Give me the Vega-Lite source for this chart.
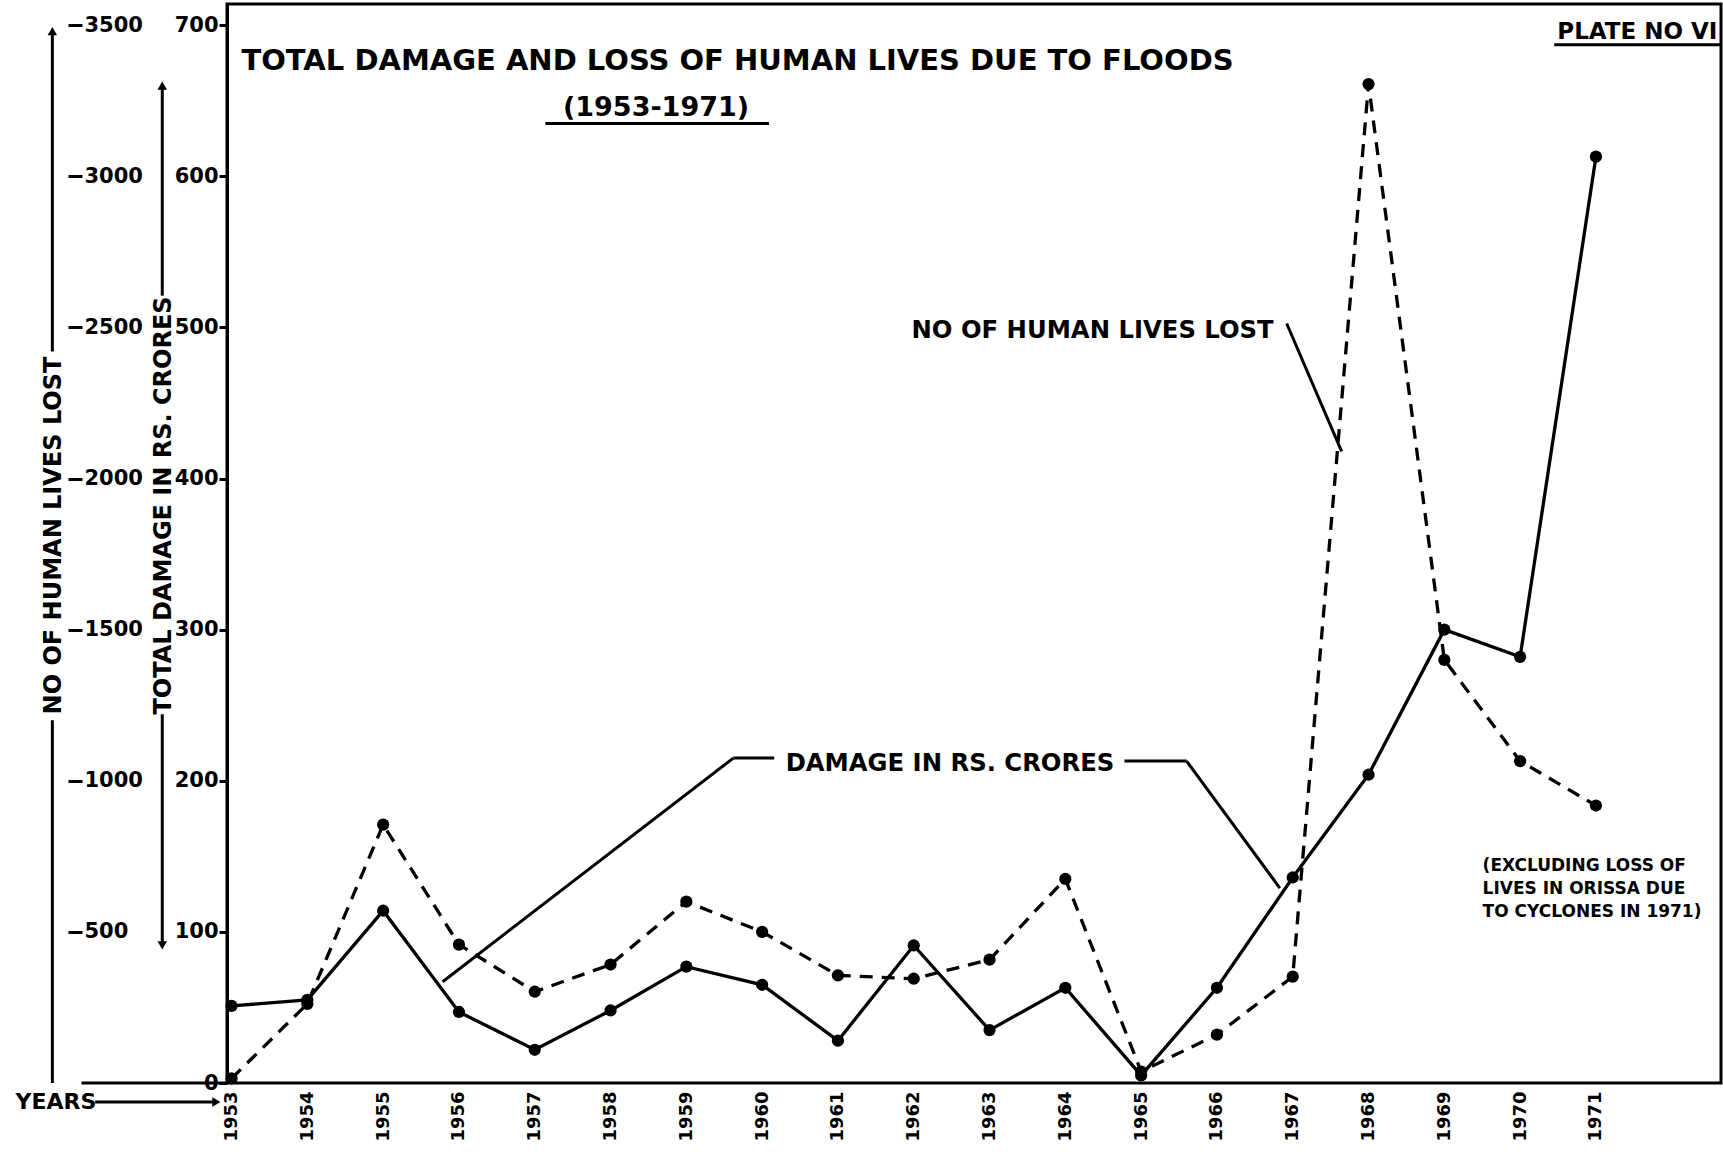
{
  "$schema": "https://vega.github.io/schema/vega-lite/v6.json",
  "width": 1494,
  "height": 1079,
  "autosize": "none",
  "padding": {"left": 227, "top": 4, "right": 2, "bottom": 69},
  "background": "white",
  "config": {
    "font": "DejaVu Sans",
    "view": {"stroke": "black", "strokeWidth": 3},
    "axis": {"grid": false, "labelColor": "black", "titleColor": "black", "tickColor": "black", "domainColor": "black"}
  },
  "datasets": {
    "floods": [
      {"year": 1953, "damage": 51, "lives": 15},
      {"year": 1954, "damage": 55, "lives": 262},
      {"year": 1955, "damage": 114, "lives": 855},
      {"year": 1956, "damage": 47, "lives": 458},
      {"year": 1957, "damage": 22, "lives": 302},
      {"year": 1958, "damage": 48, "lives": 392},
      {"year": 1959, "damage": 77, "lives": 600},
      {"year": 1960, "damage": 65, "lives": 500},
      {"year": 1961, "damage": 28, "lives": 356},
      {"year": 1962, "damage": 91, "lives": 345},
      {"year": 1963, "damage": 35, "lives": 408},
      {"year": 1964, "damage": 63, "lives": 675},
      {"year": 1965, "damage": 5, "lives": 38},
      {"year": 1966, "damage": 63, "lives": 160},
      {"year": 1967, "damage": 136, "lives": 352},
      {"year": 1968, "damage": 204, "lives": 3305},
      {"year": 1969, "damage": 300, "lives": 1400},
      {"year": 1970, "damage": 282, "lives": 1065},
      {"year": 1971, "damage": 613, "lives": 918}
    ],
    "leaders": [
      {"x1": 1966.92, "y1": 502.6, "x2": 1967.645, "y2": 418},
      {"x1": 1960.16, "y1": 215, "x2": 1959.62, "y2": 215},
      {"x1": 1959.62, "y1": 215, "x2": 1955.785, "y2": 67},
      {"x1": 1964.78, "y1": 213, "x2": 1965.6, "y2": 213},
      {"x1": 1965.6, "y1": 213, "x2": 1966.83, "y2": 129},
      {"x1": 1957.14, "y1": 635, "x2": 1960.09, "y2": 635},
      {"x1": 1970.45, "y1": 687, "x2": 1972.65, "y2": 687},
      {"x1": 1950.636, "y1": 484, "x2": 1950.636, "y2": 696},
      {"x1": 1950.636, "y1": 240, "x2": 1950.636, "y2": 0},
      {"x1": 1952.086, "y1": 521, "x2": 1952.086, "y2": 660},
      {"x1": 1952.086, "y1": 244, "x2": 1952.086, "y2": 91},
      {"x1": 1951.02, "y1": 0, "x2": 1952.94, "y2": 0},
      {"x1": 1951.2, "y1": -12.6, "x2": 1952.8, "y2": -12.6}
    ],
    "arrows": [
      {"x": 1950.636, "y": 696, "dir": "up"},
      {"x": 1952.086, "y": 660, "dir": "up"},
      {"x": 1952.086, "y": 91, "dir": "down"},
      {"x": 1952.8, "y": -12.6, "dir": "right"}
    ],
    "titleNotes": [
      {"x": 1953.13, "y": 676.5, "text": "TOTAL DAMAGE AND LOSS OF HUMAN LIVES DUE TO FLOODS"}
    ],
    "subNotes": [
      {"x": 1958.6, "y": 645, "text": "(1953-1971)"}
    ],
    "labelNotes": [
      {"x": 1961.97, "y": 497.4, "text": "NO OF HUMAN LIVES LOST"},
      {"x": 1960.31, "y": 211.3, "text": "DAMAGE IN RS. CRORES"}
    ],
    "plateNotes": [
      {"x": 1970.49, "y": 695.4, "text": "PLATE NO VI"}
    ],
    "yearNotes": [
      {"x": 1950.15, "y": -12.6, "text": "YEARS"}
    ],
    "smallNotes": [
      {"x": 1969.505, "y": 143.7, "text": "(EXCLUDING LOSS OF\nLIVES IN ORISSA DUE\nTO CYCLONES IN 1971)"}
    ]
  },
  "layer": [
    {
      "data": {"name": "floods"},
      "mark": {"type": "line", "color": "black", "strokeWidth": 3.3},
      "encoding": {
        "x": {
          "field": "year", "type": "quantitative",
          "scale": {"domain": [1952.94, 1972.65], "nice": false, "zero": false},
          "axis": {
            "values": [1953,1954,1955,1956,1957,1958,1959,1960,1961,1962,1963,1964,1965,1966,1967,1968,1969,1970,1971],
            "format": "d", "labelAngle": 270, "labelFontSize": 18, "labelFontWeight": "bold",
            "labelPadding": 8, "ticks": false, "domain": false, "title": null
          }
        },
        "y": {
          "field": "damage", "type": "quantitative",
          "scale": {"domain": [0, 714], "nice": false, "zero": false},
          "axis": {
            "values": [0,100,200,300,400,500,600,700],
            "labelFontSize": 21, "labelFontWeight": "bold", "labelPadding": 1,
            "tickSize": 8, "tickWidth": 3, "domainWidth": 3,
            "title": "TOTAL DAMAGE IN RS. CRORES",
            "titleFontSize": 24, "titleFontWeight": "bold",
            "titleAngle": 270, "titleX": -64, "titleY": 501,
            "titleAlign": "center", "titleBaseline": "middle"
          }
        }
      }
    },
    {
      "data": {"name": "floods"},
      "mark": {"type": "line", "color": "black", "strokeWidth": 3.3, "strokeDash": [13, 9]},
      "encoding": {
        "x": {"field": "year", "type": "quantitative"},
        "y": {
          "field": "lives", "type": "quantitative",
          "scale": {"domain": [0, 3570], "nice": false, "zero": false},
          "axis": {
            "orient": "right", "offset": -1653,
            "values": [500,1000,1500,2000,2500,3000,3500],
            "format": "d",
            "domain": false, "tickSize": 14, "tickWidth": 3, "labelPadding": 2,
            "labelFontSize": 21, "labelFontWeight": "bold",
            "title": "NO OF HUMAN LIVES LOST",
            "titleFontSize": 24, "titleFontWeight": "bold",
            "titleAngle": 270, "titleX": -15, "titleY": 531,
            "titleAlign": "center", "titleBaseline": "middle"
          }
        }
      }
    },
    {
      "data": {"name": "floods"},
      "mark": {"type": "point", "filled": true, "color": "black", "size": 150, "opacity": 1},
      "encoding": {
        "x": {"field": "year", "type": "quantitative"},
        "y": {"field": "damage", "type": "quantitative", "scale": {"domain": [0, 714], "nice": false, "zero": false}, "axis": null}
      }
    },
    {
      "data": {"name": "floods"},
      "mark": {"type": "point", "filled": true, "color": "black", "size": 150, "opacity": 1},
      "encoding": {
        "x": {"field": "year", "type": "quantitative"},
        "y": {"field": "lives", "type": "quantitative", "scale": {"domain": [0, 3570], "nice": false, "zero": false}, "axis": null}
      }
    },
    {
      "data": {"name": "leaders"},
      "mark": {"type": "rule", "color": "black", "strokeWidth": 3},
      "encoding": {
        "x": {"field": "x1", "type": "quantitative"},
        "y": {"field": "y1", "type": "quantitative", "scale": {"domain": [0, 714], "nice": false, "zero": false}, "axis": null},
        "x2": {"field": "x2"},
        "y2": {"field": "y2"}
      }
    },
    {
      "data": {"name": "arrows"},
      "mark": {"type": "point", "filled": true, "color": "black", "size": 90, "opacity": 1},
      "encoding": {
        "x": {"field": "x", "type": "quantitative"},
        "y": {"field": "y", "type": "quantitative", "scale": {"domain": [0, 714], "nice": false, "zero": false}, "axis": null},
        "shape": {"field": "dir", "type": "nominal", "legend": null,
          "scale": {"domain": ["up", "down", "right"], "range": ["triangle-up", "triangle-down", "triangle-right"]}}
      }
    },
    {
      "data": {"name": "titleNotes"},
      "mark": {"type": "text", "align": "left", "baseline": "middle", "fontSize": 29, "fontWeight": "bold", "color": "black"},
      "encoding": {
        "x": {"field": "x", "type": "quantitative"},
        "y": {"field": "y", "type": "quantitative", "scale": {"domain": [0, 714], "nice": false, "zero": false}, "axis": null},
        "text": {"field": "text"}
      }
    },
    {
      "data": {"name": "subNotes"},
      "mark": {"type": "text", "align": "center", "baseline": "middle", "fontSize": 27, "fontWeight": "bold", "color": "black"},
      "encoding": {
        "x": {"field": "x", "type": "quantitative"},
        "y": {"field": "y", "type": "quantitative", "scale": {"domain": [0, 714], "nice": false, "zero": false}, "axis": null},
        "text": {"field": "text"}
      }
    },
    {
      "data": {"name": "labelNotes"},
      "mark": {"type": "text", "align": "left", "baseline": "middle", "fontSize": 24.3, "fontWeight": "bold", "color": "black"},
      "encoding": {
        "x": {"field": "x", "type": "quantitative"},
        "y": {"field": "y", "type": "quantitative", "scale": {"domain": [0, 714], "nice": false, "zero": false}, "axis": null},
        "text": {"field": "text"}
      }
    },
    {
      "data": {"name": "plateNotes"},
      "mark": {"type": "text", "align": "left", "baseline": "middle", "fontSize": 23, "fontWeight": "bold", "color": "black"},
      "encoding": {
        "x": {"field": "x", "type": "quantitative"},
        "y": {"field": "y", "type": "quantitative", "scale": {"domain": [0, 714], "nice": false, "zero": false}, "axis": null},
        "text": {"field": "text"}
      }
    },
    {
      "data": {"name": "yearNotes"},
      "mark": {"type": "text", "align": "left", "baseline": "middle", "fontSize": 22, "fontWeight": "bold", "color": "black"},
      "encoding": {
        "x": {"field": "x", "type": "quantitative"},
        "y": {"field": "y", "type": "quantitative", "scale": {"domain": [0, 714], "nice": false, "zero": false}, "axis": null},
        "text": {"field": "text"}
      }
    },
    {
      "data": {"name": "smallNotes"},
      "mark": {"type": "text", "align": "left", "baseline": "middle", "fontSize": 17, "fontWeight": "bold", "lineBreak": "\n", "lineHeight": 23, "color": "black"},
      "encoding": {
        "x": {"field": "x", "type": "quantitative"},
        "y": {"field": "y", "type": "quantitative", "scale": {"domain": [0, 714], "nice": false, "zero": false}, "axis": null},
        "text": {"field": "text"}
      }
    }
  ],
  "resolve": {"scale": {"y": "independent"}}
}
